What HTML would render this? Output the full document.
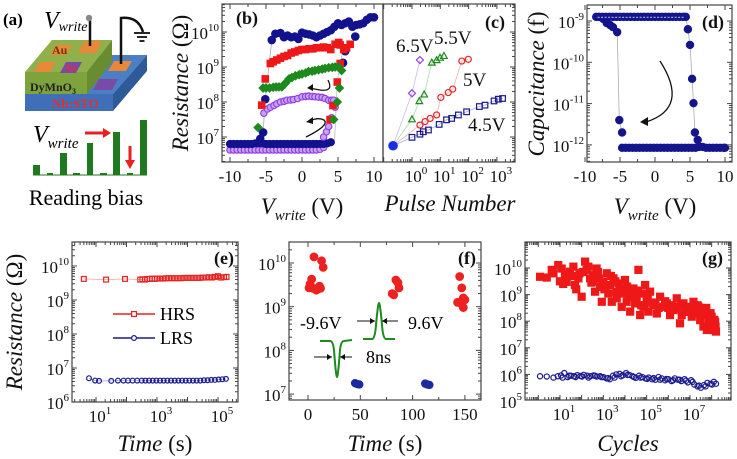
<!DOCTYPE html>
<html><head><meta charset="utf-8"><style>
html,body{margin:0;padding:0;background:#fff;}
svg{display:block;font-family:"Liberation Serif",serif;}
</style></head><body>
<svg id="fig" width="737" height="459" viewBox="0 0 737 459" xmlns="http://www.w3.org/2000/svg">
<g>
  <text x="3" y="25" font-size="17" font-weight="bold">(a)</text>
  <polygon points="55,55 147,55 113,94 25,94" fill="#4a7fc4"/>
  <rect x="25" y="94" width="88" height="17" fill="#3f6fb8"/>
  <polygon points="113,94 147,55 147,71 113,111" fill="#2f5a9a"/>
  <text x="52" y="108" font-size="13" font-weight="bold" fill="#e03030">Nb:STO</text>
  <polygon points="25,72 87,72 112,40 52,40" fill="#8fb04a"/>
  <rect x="25" y="72" width="62" height="22" fill="#7ea23c"/>
  <polygon points="87,72 112,40 112,62 87,94" fill="#6a8c30"/>
  <text x="30" y="91" font-size="12" font-weight="bold" fill="#222">DyMnO<tspan font-size="8" dy="3">3</tspan></text>
  <polygon points="50,55 66,55 72,45 56,45" fill="#e8893a"/>
  <polygon points="78,53 96,53 102,41 84,41" fill="#e8893a"/>
  <polygon points="34,72 50,72 56,62 40,62" fill="#e8893a"/>
  <polygon points="60,73 76,73 82,62 66,62" fill="#7a4aa8"/>
  <text x="52" y="54" font-size="12" font-weight="bold" fill="#6a3a10">Au</text>
  <text x="66" y="71" font-size="11" font-weight="bold" fill="#e03030">In</text>
  <polygon points="108,71 126,71 132,61 114,61" fill="#e8893a"/>
  <polygon points="93,90 112,90 118,79 99,79" fill="#7a4aa8"/>
  <line x1="90" y1="46" x2="90" y2="19" stroke="#111" stroke-width="2.5"/>
  <circle cx="89" cy="18" r="3.2" fill="#888"/>
  <path d="M121,64 L121,18 Q138,16 143,32" fill="none" stroke="#111" stroke-width="2.5"/>
  <line x1="134" y1="33" x2="150" y2="33" stroke="#111" stroke-width="1.8"/>
  <line x1="137" y1="37" x2="147" y2="37" stroke="#111" stroke-width="1.8"/>
  <line x1="139.5" y1="41" x2="144.5" y2="41" stroke="#111" stroke-width="1.8"/>
  <text x="44" y="28" font-size="24" font-style="italic">V<tspan font-size="14" dy="3">write</tspan></text>
  <g fill="#1f7a1f">
    <rect x="33" y="165" width="7" height="10"/>
    <rect x="47" y="173" width="6" height="2"/>
    <rect x="60" y="153" width="7" height="22"/>
    <rect x="73" y="173" width="7" height="2"/>
    <rect x="87" y="143" width="6" height="32"/>
    <rect x="100" y="173" width="7" height="2"/>
    <rect x="113" y="132" width="7" height="43"/>
    <rect x="127" y="173" width="6" height="2"/>
    <rect x="140" y="120" width="7" height="55"/>
  </g>
  <line x1="33" y1="175" x2="147" y2="175" stroke="#1f7a1f" stroke-width="1"/>
  <text x="33" y="142" font-size="24" font-style="italic">V<tspan font-size="15" dy="6">write</tspan></text>
  <line x1="85" y1="133" x2="104" y2="133" stroke="#e82020" stroke-width="3"/>
  <polygon points="103,128 111,133 103,138" fill="#e82020"/>
  <line x1="130" y1="146" x2="130" y2="161" stroke="#e82020" stroke-width="3"/>
  <polygon points="125,160 130,169 135,160" fill="#e82020"/>
  <text x="86" y="205" font-size="22" text-anchor="middle">Reading bias</text>
</g>
<g id="plots"></g>
</svg>
<script>
// (b)
const bBlueHV = [-4.2,-3.7,-3,-2.5,-2,-1.5,-1,-0.5,0,0.5,1,1.5,2,2.5,3,3.5,4,4.5,5,5.5,6,6.5,7,7.5,8,8.5,9,9.5,10];
const bBlueHR = [9.77,9.95,9.97,9.85,9.9,9.85,9.87,9.8,9.98,9.95,9.93,9.9,9.85,9.9,9.95,10.0,10.05,10.15,10.25,10.2,10.25,10.3,10.15,10.2,10.22,10.25,10.35,10.42,10.42];
const bBlueTV = [-5.8,-5.4,-5.1,5.7,6.0,7.4];
const bBlueTR = [6.95,7.13,8.08,9.12,9.45,9.87];
const bBlueLV = [-10,-9.5,-9,-8.5,-8,-7.5,-7,-6.5,-6,-5.5,-5,-4.5,-4,-3.5,-3,-2.5,-2,-1.5,-1,-0.5,0,0.5,1,1.5,2,2.5,3,3.5,4];
const bBlueLR = [6.8,6.8,6.8,6.8,6.8,6.8,6.8,6.82,6.82,6.82,6.8,6.8,6.8,6.8,6.8,6.8,6.8,6.8,6.8,6.8,6.8,6.8,6.8,6.8,6.8,6.8,6.8,6.82,6.85];
const bRedHV = [-5.6,-5.1,-4.4,-4,-3.5,-3,-2.5,-2,-1.5,-1,-0.5,0,0.5,1,1.5,2,2.5,3,3.5,4,4.6,5.1,5.3,5.8,6.2,6.7];
const bRedHR = [7.91,8.66,9.1,9.15,9.2,9.25,9.3,9.33,9.4,9.43,9.47,9.5,9.5,9.52,9.52,9.55,9.55,9.57,9.55,9.5,9.65,9.7,9.63,9.5,9.55,9.65];
const bRedTV = [3.9,4.3,4.9,5.3];
const bRedTR = [7.5,7.9,8.57,9.1];
const bGreenV = [-6.1,-5.4,-5,-4.5,-4,-3.6,-3.2,-2.8,-2.3,-1.8,-1.4,-0.9,-0.4,0,0.5,0.9,1.4,1.8,2.3,2.8,3.2,3.7,4.2,4.6,5.1,5.5,5.2,4.9,4.4];
const bGreenR = [7.27,8.4,8.4,8.4,8.42,8.43,8.43,8.43,8.54,8.66,8.7,8.75,8.78,8.8,8.83,8.87,8.88,8.9,8.92,8.94,8.96,8.98,8.99,9.0,9.0,8.9,8.4,8.0,7.5];
const bPurpHV = [-5.3,-4.8,-4.4,-3.9,-3.5,-3,-2.5,-2.1,-1.6,-1.2,-0.6,0,0.5,0.9,1.4,1.8,2.3,2.8,3.2,3.7,4.1,4.4,4.6,3.0,3.4,3.7,4.1];
const bPurpHR = [7.68,7.8,7.85,7.9,7.95,8.0,8.02,8.05,8.06,8.07,8.1,8.15,8.16,8.17,8.16,8.15,8.14,8.13,8.1,8.05,8.05,8.05,7.85,7.0,7.15,7.3,7.55];
const bPurpLV = [-10,-9.5,-9,-8.5,-8,-7.5,-7,-6.5,-6,-5.5,-5,-4.5,-4,-3.5,-3,-2.5,-2,-1.5,-1,-0.5,0,0.5,1,1.5,2,2.5,3];
const bPurpLR = [6.63,6.63,6.63,6.63,6.63,6.63,6.63,6.63,6.63,6.63,6.63,6.63,6.63,6.63,6.63,6.63,6.63,6.63,6.63,6.63,6.63,6.63,6.63,6.63,6.63,6.65,6.7];
// (c)
const cStartN = [-0.67]; const cStartR = [6.75];
const c45N = [0,0.28,0.4,0.58,0.96,1.22,1.4,1.64,1.93,2.38,2.58,2.9,3.05,3.2];
const c45R = [6.99,7.08,7.15,7.2,7.36,7.49,7.53,7.63,7.72,7.87,7.91,8.03,8.08,8.1];
const c5N = [0.28,0.46,0.64,0.87,1.02,1.28,1.44,1.76,1.99];
const c5R = [7.34,7.44,7.53,7.63,8.13,8.27,8.37,9.17,9.22];
const c55N = [0,0.26,0.43,0.7,0.87,0.99,1.13];
const c55R = [7.51,8.03,8.22,9.13,9.2,9.27,9.32];
const c65N = [0,0.28];
const c65R = [8.25,9.2];
// (d)
const dTopV = [-8.4,-8,-7.5,-7,-6.5,-6,-5.5,-5,-4.5,-4,-3.5,-3,-2.5,-2,-1.5,-1,-0.5,0,0.5,1,1.5,2,2.5,3,3.5,4,4.4];
const dTopC = [-8.9,-8.9,-8.9,-8.9,-8.9,-8.9,-8.9,-8.9,-8.9,-8.9,-8.9,-8.9,-8.9,-8.9,-8.9,-8.9,-8.9,-8.9,-8.9,-8.9,-8.9,-8.9,-8.9,-8.9,-8.9,-8.9,-8.9];
const dLeftV = [-7.4,-6.9,-6.4,-6.0,-5.4,-5.1,-4.7];
const dLeftC = [-8.95,-9.05,-9.1,-9.15,-9.27,-11.4,-11.7];
const dRightV = [4.7,5.0,5.3,5.5,5.7,6.1];
const dRightC = [-9.2,-9.58,-10.4,-10.99,-11.7,-11.88];
const dBotV = [-4.7,-4.2,-3.7,-3.2,-2.7,-2.2,-1.7,-1.2,-0.7,-0.2,0.3,0.8,1.3,1.8,2.3,2.8,3.3,3.8,4.3,4.8,5.3,5.8,6.3,6.8,7.3,7.8,8.3,8.8,9.3,9.8,10];
const dBotC = [-12.07,-12.07,-12.07,-12.07,-12.07,-12.07,-12.07,-12.07,-12.07,-12.07,-12.07,-12.07,-12.07,-12.07,-12.07,-12.07,-12.07,-12.07,-12.07,-12.07,-12.07,-12.07,-12.05,-12.05,-12.07,-12.07,-12.07,-12.07,-12.07,-12.07,-12.07];
// (e)
const eHt = [0.6,1.33,1.95,2.45,2.52,2.6,2.68,2.76,2.84,2.92,3.0,3.1,3.2,3.3,3.4,3.5,3.6,3.7,3.8,3.9,4.0,4.1,4.2,4.3,4.4,4.5,4.6,4.7,4.8,4.9,5.0,5.1,5.2,5.28];
const eHR = [9.62,9.6,9.62,9.6,9.61,9.6,9.62,9.62,9.63,9.62,9.63,9.63,9.63,9.64,9.64,9.64,9.64,9.64,9.64,9.65,9.65,9.65,9.65,9.65,9.65,9.66,9.66,9.67,9.66,9.68,9.7,9.66,9.67,9.68];
const eLt = [0.77,0.97,1.1,1.5,1.72,1.9,2.05,2.2,2.35,2.5,2.62,2.74,2.86,2.98,3.1,3.22,3.34,3.46,3.58,3.7,3.82,3.94,4.06,4.18,4.3,4.42,4.54,4.66,4.78,4.9,5.02,5.14,5.26];
const eLR = [6.7,6.63,6.62,6.62,6.63,6.63,6.63,6.63,6.63,6.63,6.63,6.63,6.63,6.63,6.63,6.63,6.63,6.63,6.63,6.63,6.63,6.63,6.63,6.63,6.63,6.63,6.64,6.64,6.65,6.65,6.66,6.67,6.68];
// (f)
const fRt = [5.7,13,14.5,3.5,2,1,5,8,12,11,7,84,86,87,80.5,82,145,147,148.5,143,150,147,148.5];
const fRR = [10.14,10.05,9.9,9.63,9.52,9.43,9.42,9.38,9.42,9.47,9.4,9.61,9.55,9.43,9.3,9.27,9.69,9.43,9.2,9.1,9.16,9.06,8.98];
const fBt = [45,47,49,112,114,116];
const fBR = [7.25,7.23,7.22,7.24,7.22,7.21];
// (g)
const gHN = [0.08,0.39,0.62,0.92,1.08,1.23,1.31,1.46,1.62,1.69,1.85,2.0,2.16,2.23,2.31,2.39,2.54,2.62,2.69,2.85,2.93,3.0,3.16,3.23,3.31,3.39,3.47,3.62,3.7,3.77,3.85,3.93,4.0,4.08,4.16,4.24,4.39,4.47,4.54,4.62,4.7,4.78,4.85,4.93,5.0,5.08,5.16,5.31,5.47,5.62,5.77,5.93,6.08,6.24,6.39,6.47,6.54,6.62,6.7,6.85,7.0,7.08,7.16,7.24,7.39,7.47,7.54,7.62,7.7,7.78,7.85,7.93,8.0,8.08,8.16,8.2,
  1.0,1.4,1.9,2.5,2.8,3.1,3.6,4.3,4.9,5.4,6.0,6.9,7.3,7.9,
  0.7,1.15,1.55,1.75,2.05,2.45,2.75,3.05,3.35,3.55,3.8,4.1,4.35,4.6,4.75,5.05,5.25,5.55,5.85,6.15,6.3,6.6,6.8,7.1,7.35,7.6,7.75,7.95,8.12,8.18];
const gHR = [9.67,9.64,9.93,10.11,9.98,9.73,9.48,9.86,10.05,9.36,9.61,8.92,10.24,9.93,10.05,9.61,9.73,9.11,9.98,9.29,8.73,9.48,9.8,9.04,9.36,8.73,9.61,8.86,9.42,9.23,8.54,9.04,9.55,8.73,8.98,8.36,9.23,8.67,8.86,9.93,8.23,9.04,8.54,9.36,8.79,8.36,9.11,8.61,8.29,8.92,8.54,8.67,8.23,8.42,8.86,8.54,7.92,8.23,8.67,8.42,8.54,8.17,8.73,8.29,8.54,8.04,8.42,7.8,8.23,7.67,8.04,7.86,8.17,7.67,7.98,7.61,
  9.5,9.7,9.8,9.5,9.6,9.3,9.1,9.0,8.6,8.7,8.5,8.4,8.3,8.0,
  9.8,9.4,9.7,9.2,9.85,9.45,9.85,9.2,9.7,9.5,9.2,9.3,8.9,9.15,8.6,9.0,8.7,8.5,8.75,8.6,8.5,8.6,8.35,8.45,8.6,8.35,8.5,8.3,8.05,7.8];
const gLN = [0.08,0.39,0.7,0.9,1.05,1.2,1.35,1.5,1.65,1.8,1.95,2.1,2.25,2.4,2.55,2.7,2.85,3.0,3.15,3.3,3.45,3.6,3.75,3.9,4.05,4.2,4.35,4.5,4.65,4.8,4.95,5.1,5.25,5.4,5.55,5.7,5.85,6.0,6.15,6.3,6.45,6.6,6.75,6.9,7.05,7.2,7.35,7.5,7.65,7.8,7.95,8.1,8.2,
  1.12,1.42,1.72,2.02,2.32,2.62,2.92,3.22,3.52,3.82,4.12,4.42,4.72,5.02,5.32,5.62,5.92,6.22,6.52,6.82,7.12,7.42,7.72,8.02];
const gLR = [5.93,5.92,5.88,5.93,5.96,6.05,5.9,5.95,5.93,5.97,5.94,5.98,5.95,5.93,5.96,5.92,5.93,5.9,5.85,5.82,5.95,6.0,6.02,5.97,6.05,5.98,5.93,5.87,5.95,5.9,5.85,5.88,5.82,5.8,5.9,5.85,5.78,5.82,5.75,5.85,5.8,5.75,5.82,5.7,5.78,5.62,5.55,5.5,5.6,5.68,5.65,5.72,5.65,
  5.88,5.95,5.9,5.92,5.88,5.95,5.9,5.86,5.88,5.93,5.98,5.9,5.88,5.83,5.86,5.8,5.83,5.78,5.8,5.76,5.72,5.58,5.55,5.62];

const NS = "http://www.w3.org/2000/svg";
const root = document.getElementById('plots');
function el(tag, parent){ const e = document.createElementNS(NS, tag); parent.appendChild(e); return e; }
function set(e, o){ for (const k in o) e.setAttribute(k, o[k]); return e; }

const P = {
  b:{x0:222,x1:383,y0:4,y1:162, sx:v=>302+7.2*v, sy:l=>32+(10-l)*35},
  c:{x0:383,x1:515,y0:4,y1:162, sx:n=>412+28.3*n, sy:l=>32+(10-l)*35},
  d:{x0:587,x1:732,y0:5,y1:162, sx:v=>655+7*v, sy:l=>21+(-9-l)*41.3},
  e:{x0:72,x1:238,y0:242,y1:402, sx:t=>65.5+30.5*t, sy:l=>266+(10-l)*34},
  f:{x0:289,x1:481,y0:242,y1:400, sx:t=>308+1.046*t, sy:l=>263+(10-l)*43.7},
  g:{x0:525,x1:731,y0:242,y1:400, sx:n=>538.3+21.67*n, sy:l=>268+(10-l)*26.6}
};

function frame(p, g, name){
  const r = set(el('rect', g), {x:p.x0, y:p.y0, width:p.x1-p.x0, height:p.y1-p.y0, fill:'none', stroke:'#444', 'stroke-width':1.2});
  
  
}
function tick(g, x1, y1, x2, y2){
  const t = set(el('line', g), {x1, y1, x2, y2, stroke:'#444', 'stroke-width':1});
  
  
}
function powLabel(g, x, y, exp, anchor){
  const t = set(el('text', g), {x, y, 'font-size':17, 'text-anchor':anchor, fill:'#111'});
  
  
  const a = el('tspan', t); a.textContent = '10';
  const b = set(el('tspan', t), {dy:-8, 'font-size':11}); b.textContent = String(exp);
}
function plainLabel(g, x, y, txt){
  const t = set(el('text', g), {x, y, 'font-size':17, 'text-anchor':'middle', fill:'#111'});
  
  
  t.textContent = txt;
}
function logY(p, g, labels, left, right){
  for (let d = -14; d <= 12; d++){
    for (let k = 1; k <= 9; k++){
      const y = p.sy(d + Math.log10(k));
      if (y < p.y0+0.5 || y > p.y1-0.5) continue;
      const len = k === 1 ? 5 : 3;
      if (left) tick(g, p.x0, y, p.x0+len, y);
      if (right) tick(g, p.x1, y, p.x1-len, y);
    }
    if (labels.includes(d) && left) powLabel(g, p.x0-3, p.sy(d)+7, d, 'end');
  }
}
function logX(p, g, labels){
  for (let d = -2; d <= 9; d++){
    for (let k = 1; k <= 9; k++){
      const x = p.sx(d + Math.log10(k));
      if (x < p.x0+0.5 || x > p.x1-0.5) continue;
      const len = k === 1 ? 5 : 3;
      tick(g, x, p.y1, x, p.y1-len);
      tick(g, x, p.y0, x, p.y0+len);
    }
    if (labels.includes(d)) powLabel(g, p.sx(d)+4, p.y1+20, d, 'middle');
  }
}
function linX(p, g, majors, minors){
  majors.forEach(v => { const x = p.sx(v); tick(g, x, p.y1, x, p.y1-5); tick(g, x, p.y0, x, p.y0+5); plainLabel(g, x, p.y1+20, String(v)); });
  minors.forEach(v => { const x = p.sx(v); tick(g, x, p.y1, x, p.y1-3); tick(g, x, p.y0, x, p.y0+3); });
}
function panelLabel(g, x, y, txt){
  const t = set(el('text', g), {x, y, 'font-size':18, 'font-weight':'bold', fill:'#111'});
  
  
  t.textContent = txt;
}
function marker(g, shape, x, y, s, fill, stroke, name){
  let m;
  if (shape === 'circle') m = set(el('circle', g), {cx:x, cy:y, r:s});
  else if (shape === 'square') m = set(el('rect', g), {x:x-s, y:y-s, width:2*s, height:2*s});
  else if (shape === 'diamond') m = set(el('polygon', g), {points:`${x},${y-s} ${x+s},${y} ${x},${y+s} ${x-s},${y}`});
  else m = set(el('polygon', g), {points:`${x},${y-s} ${x+s},${y+s*0.8} ${x-s},${y+s*0.8}`});
  set(m, {fill, stroke, 'stroke-width':1.2});
  
  
}
function series(p, g, xs, ys, shape, s, fill, stroke, name){
  const n = Math.min(xs.length, ys.length);
  for (let i = 0; i < n; i++) marker(g, shape, p.sx(xs[i]), p.sy(ys[i]), s, fill, stroke, name);
}
function poly(p, g, xs, ys, color, name){
  const n = Math.min(xs.length, ys.length);
  const pts = [];
  for (let i = 0; i < n; i++) pts.push(p.sx(xs[i]).toFixed(1)+','+p.sy(ys[i]).toFixed(1));
  const l = set(el('polyline', g), {points:pts.join(' '), fill:'none', stroke:color, 'stroke-width':0.8});
  
  
}
function titleText(g, x, y, rot, parts, name){
  const t = set(el('text', g), {x, y, 'font-size':23, 'text-anchor':'middle', fill:'#111'});
  if (rot) t.setAttribute('transform', `rotate(-90 ${x} ${y})`);
  
  
  parts.forEach(pt => { const s = el('tspan', t); if (pt.i) s.setAttribute('font-style','italic'); if (pt.sz) s.setAttribute('font-size', pt.sz); if (pt.dy) s.setAttribute('dy', pt.dy); s.textContent = pt.t; });
}
function panel(name){
  const g = el('g', root);
  
  
  return g;
}

{
  const p = P.b, g = panel('panel-b-resistance-vs-vwrite');
  const d = el('g', g);
  
  
  poly(p, d, [-5.8,-5.4,-5.1,-4.2], [6.95,7.13,8.08,9.77], '#aab', 'blue-transition-line');
  poly(p, d, [4.5,4.9,5.3,5.7], [6.8,8.57,9.1,9.5], '#bbb', 'set-transition-line');
  series(p, d, bPurpLV, bPurpLR, 'circle', 3.2, '#c9a2f5', '#9040e0', 'purple-lrs-point');
  series(p, d, bBlueLV, bBlueLR, 'circle', 3.5, '#12128e', '#12128e', 'blue-lrs-point');
  series(p, d, bPurpHV, bPurpHR, 'circle', 3.2, '#c9a2f5', '#9040e0', 'purple-hrs-point');
  series(p, d, bBlueHV, bBlueHR, 'circle', 3.7, '#12128e', '#12128e', 'blue-hrs-point');
  series(p, d, bBlueTV, bBlueTR, 'circle', 3.7, '#12128e', '#12128e', 'blue-switch-point');
  series(p, d, bRedHV, bRedHR, 'square', 3.2, '#ee1818', '#ee1818', 'red-hrs-point');
  series(p, d, bRedTV, bRedTR, 'square', 3.2, '#ee1818', '#ee1818', 'red-switch-point');
  series(p, d, bGreenV, bGreenR, 'diamond', 4, '#1c8a1c', '#1c8a1c', 'green-point');
  frame(p, g, 'panel-b-frame');
  logY(p, g, [7,8,9,10], true, false);
  linX(p, g, [-10,-5,0,5,10], [-7.5,-2.5,2.5,7.5]);
  panelLabel(g, 236, 24, '(b)');
  const a1 = set(el('path', g), {d:'M328,80 Q334,92 320,90 L309,88', fill:'none', stroke:'#111', 'stroke-width':1.3});
  
  
  const h1 = set(el('polygon', g), {points:'307,88 313,84 313,91', fill:'#111'});
  
  
  const a2 = set(el('path', g), {d:'M306,137 Q330,125 324,120 Q318,117 310,121', fill:'none', stroke:'#111', 'stroke-width':1.3});
  
  
  const h2 = set(el('polygon', g), {points:'306,122 313,117 313,124', fill:'#111'});
  
  
  titleText(g, 188, 83, true, [{t:'Resistance', i:1}, {t:' (Ω)'}], 'y-axis-title-resistance');
  titleText(g, 302, 214, false, [{t:'V', i:1}, {t:'write', i:1, sz:15, dy:6}, {t:' (V)', dy:-6}], 'x-axis-title-vwrite');
}
{
  const p = P.c, g = panel('panel-c-resistance-vs-pulse');
  const d = el('g', g);
  
  
  poly(p, d, cStartN.concat(c45N), cStartR.concat(c45R), '#aab0dd', 'line-4p5v');
  poly(p, d, cStartN.concat(c5N), cStartR.concat(c5R), '#f0b0b0', 'line-5v');
  poly(p, d, cStartN.concat(c55N), cStartR.concat(c55R), '#b0d8b0', 'line-5p5v');
  poly(p, d, cStartN.concat(c65N), cStartR.concat(c65R), '#d0b8f0', 'line-6p5v');
  series(p, d, cStartN, cStartR, 'circle', 4.2, '#1a30e0', '#1a30e0', 'initial-state-point');
  series(p, d, c45N, c45R, 'square', 2.8, 'none', '#1a1a8e', 'point-4p5v');
  series(p, d, c5N, c5R, 'circle', 3, 'none', '#e82020', 'point-5v');
  series(p, d, c55N, c55R, 'triangle', 3.3, 'none', '#1c8a1c', 'point-5p5v');
  series(p, d, c65N, c65R, 'diamond', 3.5, 'none', '#9040e0', 'point-6p5v');
  frame(p, g, 'panel-c-frame');
  logY(p, g, [], false, true);
  logX(p, g, [0,1,2,3]);
  panelLabel(g, 485, 28, '(c)');
  const labs = [['6.5V',396,52],['5.5V',434,44],['5V',463,86],['4.5V',468,131]];
  labs.forEach(l => { const t = set(el('text', g), {x:l[1], y:l[2], 'font-size':19, fill:'#111'});   t.textContent = l[0]; });
  titleText(g, 450, 211, false, [{t:'Pulse Number', i:1}], 'x-axis-title-pulse-number');
}
{
  const p = P.d, g = panel('panel-d-capacitance');
  const d = el('g', g);
  
  
  poly(p, d, [4.4].concat(dRightV), [-8.9].concat(dRightC), '#aab', 'right-switch-line');
  poly(p, d, dLeftV, dLeftC, '#aab', 'left-switch-line');
  series(p, d, dBotV, dBotC, 'circle', 3.6, '#14148c', '#14148c', 'low-cap-point');
  series(p, d, dTopV, dTopC, 'circle', 3.6, '#14148c', '#14148c', 'high-cap-point');
  series(p, d, dLeftV, dLeftC, 'circle', 3.6, '#14148c', '#14148c', 'left-switch-point');
  series(p, d, dRightV, dRightC, 'circle', 3.6, '#14148c', '#14148c', 'right-switch-point');
  const band = set(el('line', d), {x1:p.sx(-8.2), x2:p.sx(4.3), y1:p.sy(-8.9)+0.5, y2:p.sy(-8.9)+0.5, stroke:'#9aa0d8', 'stroke-width':1.2, 'stroke-dasharray':'2,1.5'});
  
  
  frame(p, g, 'panel-d-frame');
  logY(p, g, [-9,-10,-11,-12], true, true);
  linX(p, g, [-10,-5,0,5,10], [-7.5,-2.5,2.5,7.5]);
  panelLabel(g, 702, 28, '(d)');
  const a = set(el('path', g), {d:'M660,61 Q690,108 646,122', fill:'none', stroke:'#111', 'stroke-width':1.3});
  
  
  const h = set(el('polygon', g), {points:'640,122 648,117 648,126', fill:'#111'});
  
  
  titleText(g, 544, 84, true, [{t:'Capacitance', i:1}, {t:' (f)'}], 'y-axis-title-capacitance');
  titleText(g, 655, 214, false, [{t:'V', i:1}, {t:'write', i:1, sz:15, dy:6}, {t:' (V)', dy:-6}], 'x-axis-title-vwrite-d');
}
{
  const p = P.e, g = panel('panel-e-retention');
  const d = el('g', g);
  
  
  poly(p, d, eHt, eHR, '#f4a0a0', 'hrs-line');
  poly(p, d, eLt, eLR, '#a0a0e0', 'lrs-line');
  series(p, d, eHt, eHR, 'square', 2.4, 'none', '#e82020', 'hrs-point');
  series(p, d, eLt, eLR, 'circle', 2.4, 'none', '#1a1a8e', 'lrs-point');
  frame(p, g, 'panel-e-frame');
  logY(p, g, [6,7,8,9,10], true, true);
  logX(p, g, [1,3,5]);
  panelLabel(g, 214, 264, '(e)');
  const lg = el('g', g);
  
  
  const l1 = set(el('line', lg), {x1:113, x2:155, y1:314, y2:314, stroke:'#e82020', 'stroke-width':1.5});
  
  
  marker(lg, 'square', 134, 314, 2.4, '#fff', '#e82020', 'legend-hrs-marker');
  const t1 = set(el('text', lg), {x:160, y:320, 'font-size':18});
  
  
  t1.textContent = 'HRS';
  const l2 = set(el('line', lg), {x1:113, x2:155, y1:338, y2:338, stroke:'#1a1a8e', 'stroke-width':1.5});
  
  
  marker(lg, 'circle', 134, 338, 2.4, '#fff', '#1a1a8e', 'legend-lrs-marker');
  const t2 = set(el('text', lg), {x:160, y:344, 'font-size':18});
  
  
  t2.textContent = 'LRS';
  titleText(g, 22, 322, true, [{t:'Resistance', i:1}, {t:' (Ω)'}], 'y-axis-title-resistance-e');
  titleText(g, 155, 451, false, [{t:'Time', i:1}, {t:' (s)'}], 'x-axis-title-time-e');
}
{
  const p = P.f, g = panel('panel-f-pulse-switching');
  const d = el('g', g);
  
  
  series(p, d, fRt, fRR, 'circle', 3.8, '#ee2020', '#ee2020', 'hrs-point');
  series(p, d, fBt, fBR, 'circle', 3.6, '#1a2aa0', '#1a2aa0', 'lrs-point');
  frame(p, g, 'panel-f-frame');
  logY(p, g, [7,8,9,10], true, true);
  linX(p, g, [0,50,100,150], [25,75,125]);
  panelLabel(g, 458, 264, '(f)');
  const ins = el('g', g);
  
  
  const pd = set(el('path', ins), {d:'M320,341 L330,341 Q333,341 334,350 Q336,377 337,377 Q338,377 340,350 Q341,341 344,341 L352,340', fill:'none', stroke:'#1c8a1c', 'stroke-width':2});
  
  
  const pu = set(el('path', ins), {d:'M363,339 L372,339 Q375,339 376,325 Q378,303 379,303 Q380,303 382,325 Q383,339 386,339 L395,339', fill:'none', stroke:'#1c8a1c', 'stroke-width':2});
  
  
  const arr = [[314,357,332,357],[352,357,340,357],[357,321,375,321],[398,321,382,321]];
  arr.forEach(a => {
    const l = set(el('line', ins), {x1:a[0], y1:a[1], x2:a[2], y2:a[3], stroke:'#111', 'stroke-width':1});
    
    
    const dir = a[2] > a[0] ? 1 : -1;
    const h = set(el('polygon', ins), {points:`${a[2]},${a[3]} ${a[2]-5*dir},${a[3]-3} ${a[2]-5*dir},${a[3]+3}`, fill:'#111'});
    
    
  });
  [['-9.6V',300,329],['9.6V',408,329],['8ns',366,363]].forEach(l => {
    const t = set(el('text', ins), {x:l[1], y:l[2], 'font-size':18});
    
    
    t.textContent = l[0];
  });
  titleText(g, 385, 451, false, [{t:'Time', i:1}, {t:' (s)'}], 'x-axis-title-time-f');
}
{
  const p = P.g, g = panel('panel-g-endurance');
  const d = el('g', g);
  
  
  series(p, d, gHN, gHR, 'square', 3.5, '#ee1818', '#ee1818', 'hrs-point');
  series(p, d, gLN, gLR, 'circle', 2.6, 'none', '#1a1a8e', 'lrs-point');
  frame(p, g, 'panel-g-frame');
  logY(p, g, [5,6,7,8,9,10], true, true);
  logX(p, g, [1,3,5,7]);
  panelLabel(g, 702, 264, '(g)');
  titleText(g, 628, 451, false, [{t:'Cycles', i:1}], 'x-axis-title-cycles');
}
</script>
</body></html>
